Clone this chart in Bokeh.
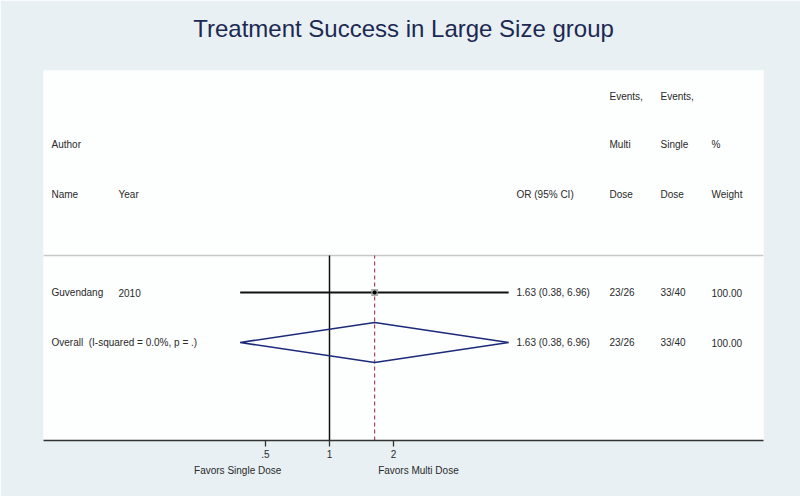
from bokeh.plotting import figure
from bokeh.models import (Range1d, LinearScale, FixedTicker, LogAxis, LinearAxis, ColumnDataSource)
from bokeh.core.properties import value
from bokeh.embed import file_html
from bokeh.resources import INLINE

# ---- data ----
title_text = "Treatment Success in Large Size group"
study_names = ["Guvendang"]
study_years = ["2010"]
study_or = [1.63]
study_lo = [0.38]
study_hi = [6.96]
study_or_text = ["1.63 (0.38, 6.96)"]
study_ev_multi = ["23/26"]
study_ev_single = ["33/40"]
study_weight = ["100.00"]

overall_label = "Overall\u00a0 (I-squared = 0.0%, p = .)"
overall_or = 1.63
overall_lo = 0.38
overall_hi = 6.96
overall_or_text = "1.63 (0.38, 6.96)"
overall_ev_multi = "23/26"
overall_ev_single = "33/40"
overall_weight = "100.00"

tick_values = [0.5, 1, 2]
tick_labels = [".5", "1", "2"]
null_value = 1
favors_text = ["Favors Single Dose", "Favors Multi Dose"]
favors_at = [0.37, 2.62]

header_lines = [
    ["", "", "", "Events,", "Events,", ""],
    ["Author", "", "", "Multi", "Single", "%"],
    ["Name", "Year", "OR (95% CI)", "Dose", "Dose", "Weight"],
]

# ---- layout constants (pixels inside frame) ----
BG = "#e8f0f3"
TXT = "#2a2a2a"
FONT = "Liberation Sans"
col_x = [8, 75, 473, 566, 617, 668]
title_x = 360
header_y = [344, 296, 246]
sep_y = 185
row_study_y = [148]
row_overall_y = 98
diamond_half = 20

p = figure(width=800, height=496, x_axis_type="log",
           x_range=Range1d(2 ** ((43 - 329) / 64), 2 ** ((763 - 329) / 64)),
           y_range=Range1d(0, 370),
           output_backend="svg", toolbar_location=None,
           y_axis_location=None, min_border_left=43, min_border_right=37,
           min_border_top=70, min_border_bottom=56,
           border_fill_color=BG, background_fill_color="#fdfefe",
           outline_line_color=None)
p.grid.visible = False
p.extra_x_ranges = {"px": Range1d(0, 720)}
p.extra_x_scales = {"px": LinearScale()}

# main OR axis
ax = p.below[0]
ax.ticker = FixedTicker(ticks=tick_values, minor_ticks=[])
ax.major_label_overrides = {v: s for v, s in zip(tick_values, tick_labels)}
ax.axis_line_color = "#333333"
ax.axis_line_width = 1.6
ax.major_tick_line_color = "#333333"
ax.major_tick_line_width = 1.3
ax.major_tick_out = 6
ax.major_tick_in = 0
ax.minor_tick_out = 0
ax.minor_tick_in = 0
ax.major_label_standoff = 3
ax.major_label_text_font = FONT
ax.major_label_text_font_size = "10px"
ax.major_label_text_color = TXT

# title as a bare axis above the frame
tax = LinearAxis(x_range_name="px", ticker=FixedTicker(ticks=[title_x], minor_ticks=[]),
                 major_label_overrides={title_x: title_text},
                 axis_line_color=None, major_tick_line_color=None, minor_tick_line_color=None,
                 major_tick_out=0, major_tick_in=0, minor_tick_out=0, minor_tick_in=0,
                 major_label_standoff=29, major_label_text_font=FONT,
                 major_label_text_font_size="24px", major_label_text_color="#1c2952")
p.add_layout(tax, "above")

# favours captions as a second, bare axis
fav = LogAxis(ticker=FixedTicker(ticks=favors_at, minor_ticks=[]),
              major_label_overrides={v: s for v, s in zip(favors_at, favors_text)},
              axis_line_color=None, major_tick_line_color=None, minor_tick_line_color=None,
              major_tick_out=0, major_tick_in=0, minor_tick_out=0, minor_tick_in=0,
              major_label_standoff=4, major_label_text_font=FONT,
              major_label_text_font_size="10px", major_label_text_color=TXT)
p.add_layout(fav, "below")

# separator
p.line(x=[0, 720], y=[sep_y, sep_y], x_range_name="px", line_color="#c8c8c8", line_width=1.5)

# null line & overall dashed line
p.line(x=[null_value, null_value], y=[0, sep_y], line_color="#111111", line_width=1.5)
p.line(x=[overall_or, overall_or], y=[0, sep_y], line_color="#a34a5a", line_width=1.2,
       line_dash="4 3")

# study CI
src = ColumnDataSource(dict(lo=study_lo, hi=study_hi, est=study_or, y=row_study_y))
p.segment(x0="lo", x1="hi", y0="y", y1="y", source=src, line_color="#111111", line_width=2.2)
p.scatter(x="est", y="y", source=src, marker="square", size=7, fill_color="#9a9a9a",
          line_color=None, fill_alpha=0.8)
p.scatter(x="est", y="y", source=src, marker="circle", size=4, fill_color="#000000",
          line_color=None)

# overall diamond
p.patch(x=[overall_lo, overall_or, overall_hi, overall_or],
        y=[row_overall_y, row_overall_y + diamond_half, row_overall_y, row_overall_y - diamond_half],
        fill_color=None, line_color="#1c2a7a", line_width=1.6)

# texts
tx, ty, tt = [], [], []
for yy, line in zip(header_y, header_lines):
    for cx, s in zip(col_x, line):
        if s:
            tx.append(cx); ty.append(yy); tt.append(s)
for i, yy in enumerate(row_study_y):
    for cx, s in zip(col_x, [study_names[i], study_years[i], study_or_text[i],
                             study_ev_multi[i], study_ev_single[i], study_weight[i]]):
        tx.append(cx); ty.append(yy); tt.append(s)
for cx, s in zip([col_x[0]] + col_x[2:], [overall_label, overall_or_text, overall_ev_multi,
                                          overall_ev_single, overall_weight]):
    tx.append(cx); ty.append(row_overall_y); tt.append(s)

p.text(x=tx, y=ty, text=tt, x_range_name="px", text_font=value(FONT),
       text_font_size="10px", text_color=TXT, text_baseline="middle", text_align="left")

open("out.html", "w").write(file_html(p, INLINE))
